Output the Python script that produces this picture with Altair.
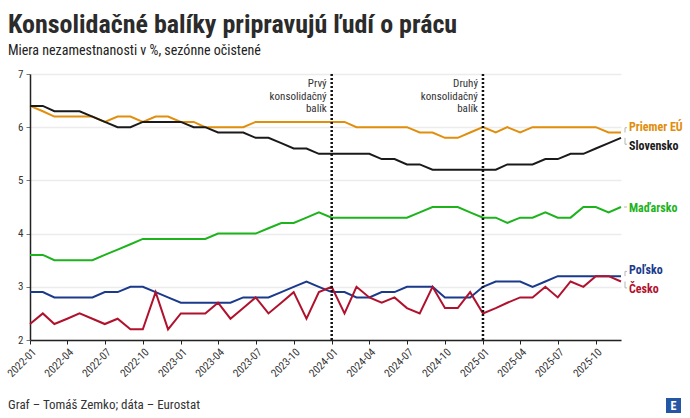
import altair as alt
import pandas as pd

# ---- data -------------------------------------------------------------
months = [f"{y}-{m:02d}-01" for y in range(2022, 2026) for m in range(1, 13)]

eu = [6.4, 6.3, 6.2, 6.2, 6.2, 6.2, 6.1, 6.2, 6.2, 6.1, 6.2, 6.2,
      6.1, 6.1, 6.0, 6.0, 6.0, 6.0, 6.1, 6.1, 6.1, 6.1, 6.1, 6.1,
      6.1, 6.1, 6.0, 6.0, 6.0, 6.0, 6.0, 5.9, 5.9, 5.8, 5.8, 5.9,
      6.0, 5.9, 6.0, 5.9, 6.0, 6.0, 6.0, 6.0, 6.0, 6.0, 5.9, 5.9]
sk = [6.4, 6.4, 6.3, 6.3, 6.3, 6.2, 6.1, 6.0, 6.0, 6.1, 6.1, 6.1,
      6.1, 6.0, 6.0, 5.9, 5.9, 5.9, 5.8, 5.8, 5.7, 5.6, 5.6, 5.5,
      5.5, 5.5, 5.5, 5.5, 5.4, 5.4, 5.3, 5.3, 5.2, 5.2, 5.2, 5.2,
      5.2, 5.2, 5.3, 5.3, 5.3, 5.4, 5.4, 5.5, 5.5, 5.6, 5.7, 5.8]
hu = [3.6, 3.6, 3.5, 3.5, 3.5, 3.5, 3.6, 3.7, 3.8, 3.9, 3.9, 3.9,
      3.9, 3.9, 3.9, 4.0, 4.0, 4.0, 4.0, 4.1, 4.2, 4.2, 4.3, 4.4,
      4.3, 4.3, 4.3, 4.3, 4.3, 4.3, 4.3, 4.4, 4.5, 4.5, 4.5, 4.4,
      4.3, 4.3, 4.2, 4.3, 4.3, 4.4, 4.3, 4.3, 4.5, 4.5, 4.4, 4.5]
pl = [2.9, 2.9, 2.8, 2.8, 2.8, 2.8, 2.9, 2.9, 3.0, 3.0, 2.9, 2.8,
      2.7, 2.7, 2.7, 2.7, 2.7, 2.8, 2.8, 2.8, 2.9, 3.0, 3.1, 3.0,
      2.9, 2.9, 2.8, 2.8, 2.9, 2.9, 3.0, 3.0, 3.0, 2.8, 2.8, 2.8,
      3.0, 3.1, 3.1, 3.1, 3.0, 3.1, 3.2, 3.2, 3.2, 3.2, 3.2, 3.2]
cz = [2.3, 2.5, 2.3, 2.4, 2.5, 2.4, 2.3, 2.4, 2.2, 2.2, 2.9, 2.2,
      2.5, 2.5, 2.5, 2.7, 2.4, 2.6, 2.8, 2.5, 2.7, 2.9, 2.4, 2.9,
      3.0, 2.5, 3.0, 2.8, 2.7, 2.8, 2.6, 2.5, 3.0, 2.6, 2.6, 2.9,
      2.5, 2.6, 2.7, 2.8, 2.8, 3.0, 2.8, 3.1, 3.0, 3.2, 3.2, 3.1]

series_names = ["Priemer EÚ", "Slovensko", "Maďarsko", "Poľsko", "Česko"]
series_values = [eu, sk, hu, pl, cz]
series_colors = ["#e08e0b", "#1a1a1a", "#1db31d", "#1b3a8c", "#b0122e"]

event_dates = ["2024-01-01", "2025-01-01"]
event_labels = ["Prvý\nkonsolidačný\nbalík", "Druhý\nkonsolidačný\nbalík"]

title = "Konsolidačné balíky pripravujú ľudí o prácu"
subtitle = "Miera nezamestnanosti v %, sezónne očistené"
footer = "Graf – Tomáš Zemko; dáta – Eurostat"

# ---- tables -----------------------------------------------------------
rows = []
for name, vals in zip(series_names, series_values):
    for d, v in zip(months, vals):
        rows.append({"date": d, "series": name, "value": v})
df = pd.DataFrame(rows)
df_end = df[df["date"] == months[-1]].copy()
df_events = pd.DataFrame({"date": event_dates, "label": event_labels})

FONT = "Roboto Condensed, Liberation Sans Narrow, DejaVu Sans Condensed, Roboto, sans-serif"

x_enc = alt.X(
    "date:T",
    scale=alt.Scale(type="utc", domain=[alt.DateTime(year=2022, month=1, date=1, utc=True),
                                        alt.DateTime(year=2025, month=12, date=1, utc=True)]),
    axis=alt.Axis(tickCount=alt.TimeIntervalStep(interval="month", step=3),
                  format="%Y-%m", labelAngle=-45, labelAlign="right",
                  labelBaseline="top", labelFontSize=11, labelColor="#333",
                  labelOverlap=False, labelBound=False, labelFlush=False,
                  domainColor="#222", domainWidth=1.5, tickColor="#222", tickSize=4,
                  grid=False, title=None, labelPadding=2),
)
y_enc = alt.Y(
    "value:Q",
    scale=alt.Scale(domain=[2, 7], nice=False, zero=False),
    axis=alt.Axis(values=[2, 3, 4, 5, 6, 7], labelFontSize=11, labelColor="#333",
                  domainColor="#222", domainWidth=1.5, tickColor="#777", tickSize=4,
                  gridColor="#ececec", gridWidth=1.5, title=None, labelPadding=3),
)
color_scale = alt.Scale(domain=series_names, range=series_colors)

lines = alt.Chart(df).mark_line(strokeWidth=2).encode(
    x=x_enc, y=y_enc,
    color=alt.Color("series:N", scale=color_scale, legend=None),
)

rules = alt.Chart(df_events).mark_rule(color="#111", strokeWidth=2.5, strokeDash=[2, 2]).encode(
    x="date:T"
)
event_text = alt.Chart(df_events).mark_text(
    align="right", baseline="top", dx=-5, lineHeight=12.5, lineBreak="\n",
    fontSize=11, color="#333", font=FONT
).encode(x="date:T", y=alt.value(4), text="label:N")

dys = {"Priemer EÚ": -6, "Slovensko": 8, "Maďarsko": 1, "Poľsko": -6, "Česko": 8}
label_layers = []
for name in series_names:
    sub = df_end[df_end["series"] == name]
    label_layers.append(
        alt.Chart(sub).mark_text(
            align="left", baseline="middle", dx=8, dy=dys[name], fontSize=12,
            fontWeight="bold", font=FONT
        ).encode(
            x="date:T", y="value:Q", text="series:N",
            color=alt.Color("series:N", scale=color_scale, legend=None),
        )
    )
    d = dys[name]
    if abs(d) > 2:
        # small leader: vertical stroke + tiny hook toward the label
        label_layers.append(
            alt.Chart(sub).mark_rule(color="#b5b5b5", strokeWidth=1,
                                     xOffset=4, x2Offset=4, yOffset=0, y2Offset=d * 0.8).encode(
                x="date:T", x2="date:T", y="value:Q", y2="value:Q")
        )
        label_layers.append(
            alt.Chart(sub).mark_rule(color="#b5b5b5", strokeWidth=1,
                                     xOffset=4, x2Offset=6, yOffset=d * 0.8, y2Offset=d * 0.8).encode(
                x="date:T", x2="date:T", y="value:Q", y2="value:Q")
        )
    else:
        label_layers.append(
            alt.Chart(sub).mark_rule(color="#b5b5b5", strokeWidth=1,
                                     xOffset=3, x2Offset=6, yOffset=0, y2Offset=0).encode(
                x="date:T", x2="date:T", y="value:Q", y2="value:Q")
        )

deco = pd.DataFrame({"t": [title]})
title_text = alt.Chart(deco).mark_text(
    text=title, align="left", baseline="alphabetic", fontSize=26, fontWeight="bold",
    color="#2b2b2b", font=FONT
).encode(x=alt.value(-22), y=alt.value(-41))
subtitle_text = alt.Chart(deco).mark_text(
    text=subtitle, align="left", baseline="alphabetic", fontSize=14, color="#222", font=FONT
).encode(x=alt.value(-22), y=alt.value(-19))
footer_text = alt.Chart(deco).mark_text(
    text=footer, align="left", baseline="middle", fontSize=13, color="#333", font=FONT
).encode(x=alt.value(-22), y=alt.value(331))
logo_box = alt.Chart(deco).mark_rect(color="#2456a4").encode(
    x=alt.value(636), x2=alt.value(651), y=alt.value(324), y2=alt.value(339)
)
logo_text = alt.Chart(deco).mark_text(
    text="E", align="center", baseline="middle", fontSize=12, fontWeight="bold", color="white", font=FONT
).encode(x=alt.value(643.5), y=alt.value(331.5))

chart = alt.layer(
    lines, rules, event_text, *label_layers, title_text, subtitle_text, footer_text, logo_box, logo_text
).properties(
    width=591, height=266,
    autosize=alt.AutoSizeParams(type="none"),
    padding={"left": 30, "top": 74, "right": 69, "bottom": 78},
).configure(
    font=FONT,
).configure_view(stroke=None).configure_axis(labelFont=FONT)

chart.save("out.html", embed_options={"renderer": "svg", "actions": False})
